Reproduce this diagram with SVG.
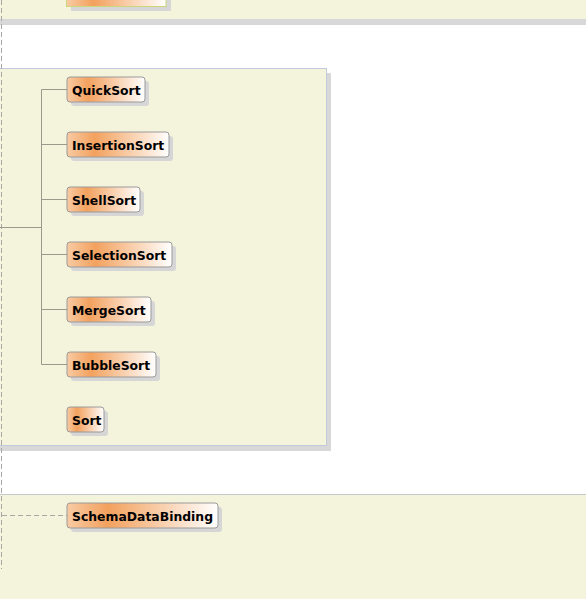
<svg xmlns="http://www.w3.org/2000/svg" width="586" height="599" viewBox="0 0 586 599">
  <defs>
    <linearGradient id="nodeFill" x1="0" y1="0" x2="1" y2="0">
      <stop offset="0" stop-color="#f8cba4"/>
      <stop offset="0.27" stop-color="#f3a15e"/>
      <stop offset="1" stop-color="#ffffff"/>
    </linearGradient>
  </defs>
  <style>
    .band { fill: #f4f4dc; }
    .shadow { fill: #d8d8d8; }
    .pkg { fill: #f4f4dc; stroke: #c3c9dc; stroke-width: 1; }
    .node rect.box { fill: url(#nodeFill); stroke: #9a9a9a; stroke-width: 1; }
    .node rect.sh { fill: #d6d6d6; }
    .node text { font-family: "DejaVu Sans", "Liberation Sans", sans-serif; font-weight: bold; font-size: 12.4px; fill: #000; }
    .tree { fill: none; stroke: #9a9a8c; stroke-width: 1; }
    .dash { fill: none; stroke: #a8a8a8; stroke-width: 1; stroke-dasharray: 5 3; }
  </style>

  <rect width="586" height="599" fill="#ffffff"/>

  <!-- upper package (cut off at top) -->
  <rect class="shadow" x="0" y="19" width="586" height="6"/>
  <rect class="band" x="0" y="0" width="586" height="19"/>
  <g id="top-node">
    <rect x="71" y="-15" width="100" height="26" fill="#d6d6d6"/>
    <rect x="66.5" y="-20" width="99.5" height="26.5" fill="url(#nodeFill)" stroke="#ccd67a" stroke-width="1"/>
  </g>

  <!-- sorting package -->
  <g id="sort-package">
    <rect class="shadow" x="0" y="73" width="331" height="378"/>
    <rect class="pkg" x="-1" y="68.5" width="327.5" height="377"/>
  </g>

  <!-- lower package (cut off at bottom) -->
  <g id="lower-package">
    <rect class="band" x="0" y="494.5" width="586" height="105"/>
    <line x1="0" y1="494.5" x2="586" y2="494.5" stroke="#c8c8cc" stroke-width="1"/>
  </g>

  <!-- connectors -->
  <g id="connectors">
    <path class="dash" d="M1.5 0 V569"/>
    <path class="tree" d="M0 227.5 H41.5 M41.5 89.5 V364.5 M41.5 89.5 H67 M41.5 144.5 H67 M41.5 199.5 H67 M41.5 254.5 H67 M41.5 309.5 H67 M41.5 364.5 H67"/>
    <path class="dash" d="M2 515.5 H67"/>
  </g>

  <g id="QuickSort" class="node">
    <rect class="sh" x="71" y="81" width="78" height="25" rx="3"/>
    <rect class="box" x="67" y="77" width="78" height="25" rx="3"/>
    <text x="72" y="94.5">QuickSort</text>
  </g>
  <g id="InsertionSort" class="node">
    <rect class="sh" x="71" y="136" width="102" height="25" rx="3"/>
    <rect class="box" x="67" y="132" width="102" height="25" rx="3"/>
    <text x="72" y="149.5">InsertionSort</text>
  </g>
  <g id="ShellSort" class="node">
    <rect class="sh" x="71" y="191" width="73" height="25" rx="3"/>
    <rect class="box" x="67" y="187" width="73" height="25" rx="3"/>
    <text x="72" y="204.5">ShellSort</text>
  </g>
  <g id="SelectionSort" class="node">
    <rect class="sh" x="71" y="246" width="105" height="25" rx="3"/>
    <rect class="box" x="67" y="242" width="105" height="25" rx="3"/>
    <text x="72" y="259.5">SelectionSort</text>
  </g>
  <g id="MergeSort" class="node">
    <rect class="sh" x="71" y="301" width="84" height="25" rx="3"/>
    <rect class="box" x="67" y="297" width="84" height="25" rx="3"/>
    <text x="72" y="314.5">MergeSort</text>
  </g>
  <g id="BubbleSort" class="node">
    <rect class="sh" x="71" y="356" width="89" height="25" rx="3"/>
    <rect class="box" x="67" y="352" width="89" height="25" rx="3"/>
    <text x="72" y="369.5">BubbleSort</text>
  </g>
  <g id="Sort" class="node">
    <rect class="sh" x="71" y="411" width="37" height="25" rx="3"/>
    <rect class="box" x="67" y="407" width="37" height="25" rx="3"/>
    <text x="72" y="424.5">Sort</text>
  </g>
  <g id="SchemaDataBinding" class="node">
    <rect class="sh" x="71" y="507" width="151" height="25" rx="3"/>
    <rect class="box" x="67" y="503" width="151" height="25" rx="3"/>
    <text x="72" y="520.5">SchemaDataBinding</text>
  </g>
</svg>
